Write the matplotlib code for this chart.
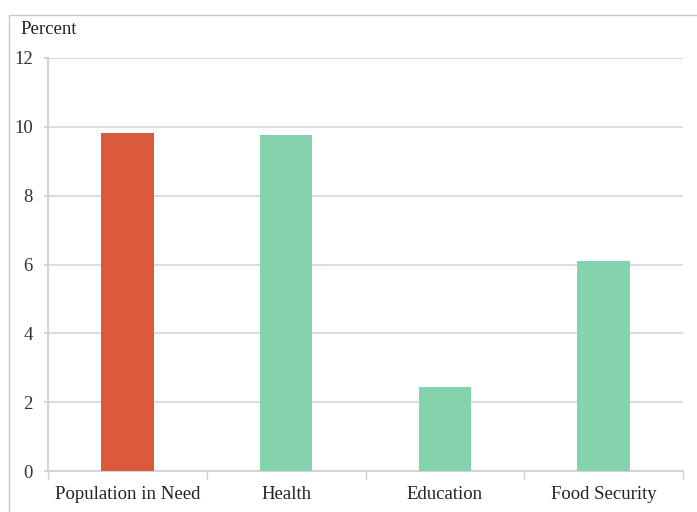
import matplotlib
matplotlib.use("Agg")
import matplotlib.pyplot as plt
from matplotlib.patches import Rectangle

categories = ["Population in Need", "Health", "Education", "Food Security"]
values = [9.83, 9.77, 2.44, 6.1]
colors = ["#dc5a3c", "#84d2ae", "#84d2ae", "#84d2ae"]
yticks = [0, 2, 4, 6, 8, 10, 12]

plt.rcParams["font.family"] = ["Liberation Serif", "DejaVu Serif"]

fig = plt.figure(figsize=(6.97, 5.12), dpi=100)
ax = fig.add_axes([48 / 697, 1 - 471 / 512, (683 - 48) / 697, (471 - 58) / 512])

# outer frame around the chart
fig.patches.append(Rectangle((9 / 697, -0.01), 1.0, 1 - 15 / 512 + 0.01,
                             transform=fig.transFigure, fill=False,
                             edgecolor="#c8c8c8", linewidth=1.0))

x = range(len(categories))
ax.bar(x, values, width=0.33, color=colors, zorder=3)

ax.set_xlim(-0.5, len(categories) - 0.5)
ax.set_ylim(0, 12)
ax.set_yticks(yticks)
ax.set_yticklabels([str(t) for t in yticks], fontsize=13.5, color="#333333")
ax.set_xticks(list(x))
ax.set_xticklabels(categories, fontsize=13.5, color="#222222")
ax.tick_params(axis="x", length=0, pad=11)
ax.tick_params(axis="y", length=3, color="#d9d9d9", width=1.5, pad=8)

# category boundary ticks on the bottom axis
ax.set_xticks([i - 0.5 for i in range(len(categories) + 1)], minor=True)
ax.tick_params(axis="x", which="minor", length=6, color="#cfcfcf", width=1)

ax.grid(axis="y", color="#dcdcdc", linewidth=1.5, zorder=0)
for side in ["top", "right"]:
    ax.spines[side].set_visible(False)
ax.spines["left"].set_color("#d4d4d4")
ax.spines["left"].set_linewidth(1.5)
ax.spines["bottom"].set_color("#d4d4d4")
ax.spines["bottom"].set_linewidth(1.5)

fig.text(20 / 697, 1 - 30 / 512, "Percent", fontsize=13.5, color="#222222",
         va="center", ha="left")

fig.savefig("out.png", dpi=100)
